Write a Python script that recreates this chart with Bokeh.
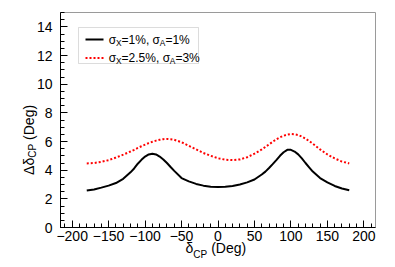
import math
from bokeh.plotting import figure
from bokeh.models import Label, BoxAnnotation, Arrow, SingleIntervalTicker, Range1d
from bokeh.embed import file_html
from bokeh.resources import INLINE

# ---- data ----
delta_cp = [-180, -170, -160, -150, -140, -130, -120, -115, -110, -105, -100,
            -95, -90, -85, -80, -75, -70, -65, -60, -50, -40, -30, -20, -10,
            0, 10, 20, 30, 40, 50, 60, 65, 70, 75, 80, 85, 90, 95, 100, 105,
            110, 115, 120, 125, 130, 140, 150, 160, 170, 180]
err_1_1 = [2.58, 2.65, 2.78, 2.92, 3.10, 3.40, 3.85, 4.12, 4.45, 4.72, 4.95,
           5.10, 5.15, 5.10, 4.95, 4.75, 4.50, 4.22, 3.95, 3.45, 3.22, 3.04, 2.92, 2.85,
           2.82, 2.84, 2.90, 3.00, 3.15, 3.35, 3.70, 3.90, 4.15, 4.42, 4.70, 5.00, 5.25, 5.42, 5.42, 5.30,
           5.10, 4.82, 4.50, 4.20, 3.90, 3.45, 3.15, 2.90, 2.72, 2.60]
err_25_3 = [4.47, 4.50, 4.58, 4.70, 4.88, 5.08, 5.30, 5.42, 5.55, 5.67, 5.78,
            5.89, 5.98, 6.06, 6.12, 6.16, 6.18, 6.16, 6.12, 5.95, 5.70, 5.45, 5.20, 5.00,
            4.83, 4.73, 4.70, 4.75, 4.90, 5.15, 5.45, 5.62, 5.80, 5.98, 6.15, 6.29, 6.40, 6.48, 6.52, 6.50,
            6.45, 6.34, 6.20, 6.03, 5.85, 5.45, 5.10, 4.82, 4.60, 4.47]
x_limits = (-216, 216)
y_limits = (0, 15)
x_tick_step = 50
y_tick_step = 2

FONT = "Liberation Sans"
FRAME_W, FRAME_H = 315, 215

p = figure(width=389, height=262, output_backend="svg", toolbar_location=None,
           x_range=Range1d(*x_limits), y_range=Range1d(*y_limits),
           min_border_left=60, min_border_right=14, min_border_top=12,
           min_border_bottom=35)
p.grid.visible = False
p.background_fill_color = "white"
p.border_fill_color = "white"
p.outline_line_color = "#9a9a9a"
p.outline_line_width = 1

p.xaxis.ticker = SingleIntervalTicker(interval=x_tick_step, num_minor_ticks=5)
p.yaxis.ticker = SingleIntervalTicker(interval=y_tick_step, num_minor_ticks=4)
for ax in (p.xaxis[0], p.yaxis[0]):
    ax.major_tick_in = 7
    ax.major_tick_out = 0
    ax.minor_tick_in = 4
    ax.minor_tick_out = 0
    ax.axis_line_color = "black"
    ax.major_tick_line_color = "black"
    ax.minor_tick_line_color = "black"
    ax.major_label_text_font = FONT
    ax.major_label_text_font_size = "14px"
    ax.major_label_text_color = "black"
p.xaxis.major_label_standoff = 3
p.yaxis.major_label_standoff = 8
p.yaxis.major_label_orientation = "horizontal"

p.line(delta_cp, err_1_1, line_color="black", line_width=2)
p.line(delta_cp, err_25_3, line_color="#ff0000", line_width=2, line_dash="2 2")

WID = {'σ': 0.60, 'X': 0.667, 'A': 0.667, '=': 0.584, '.': 0.278, '%': 0.889,
       ',': 0.278, ' ': 0.278, '(': 0.333, ')': 0.333, 'D': 0.722, 'e': 0.556,
       'g': 0.556, 'δ': 0.556, 'Δ': 0.668, 'C': 0.722, 'P': 0.667}


def text_width(s, size):
    return sum(WID.get(c, 0.556) for c in s) * size


def lab(x, y, txt, size, angle=0.0, baseline="alphabetic", panel=None):
    item = Label(x=x, y=y, x_units="screen", y_units="screen", text=txt,
                 angle=angle, text_font=FONT, text_font_size=f"{size}px",
                 text_color="black", text_align="left", text_baseline=baseline)
    if panel:
        p.add_layout(item, panel)
    else:
        p.add_layout(item)


def place(pieces, x0, y0, baseline="middle"):
    pos = 0.0
    for txt, size, drop in pieces:
        lab(x0 + pos, y0 - drop, txt, size, baseline=baseline)
        pos += text_width(txt, size)


S, SS = 14, 10
EM = "\u2003"  # gap of about the width of the subscript

# x-axis title: main text in the panel below, subscript in the right panel
x_start = 125
lab(x_start, 12, "δ" + EM + " (Deg)", S, panel="below")
lab(x_start + text_width("δ", S) - FRAME_W, -26.5, "CP", SS, panel="right")

# y-axis title: main text and subscript in the left panels
y_total = text_width("Δδ", S) + text_width("CP", SS) + text_width(" (Deg)", S)
y_start = FRAME_H / 2 - y_total / 2 - 20
lab(11, y_start, "Δδ" + EM + " (Deg)", S, angle=math.pi / 2, panel="left")
lab(26, y_start + text_width("Δδ", S), "CP", SS, angle=math.pi / 2, panel="left")

# legend
p.add_layout(BoxAnnotation(left=18, right=138, bottom=164, top=200,
                           left_units="screen", right_units="screen",
                           bottom_units="screen", top_units="screen",
                           fill_color="white", fill_alpha=1.0,
                           line_color="#8a8a8a", line_width=1))
p.add_layout(Arrow(x_start=25, y_start=188, x_end=43, y_end=188,
                   start_units="screen", end_units="screen", start=None, end=None,
                   line_color="black", line_width=2))
p.add_layout(Arrow(x_start=25, y_start=169.5, x_end=43, y_end=169.5,
                   start_units="screen", end_units="screen", start=None, end=None,
                   line_color="#ff0000", line_width=2, line_dash="2 2"))
L, LS = 12, 8.4
place([("σ", L, 0), ("X", LS, 3), ("=1%, σ", L, 0), ("A", LS, 3), ("=1%", L, 0)],
      48.3, 188)
place([("σ", L, 0), ("X", LS, 3), ("=2.5%, σ", L, 0), ("A", LS, 3), ("=3%", L, 0)],
      48.3, 169.5)

open("out.html", "w").write(file_html(p, INLINE))
